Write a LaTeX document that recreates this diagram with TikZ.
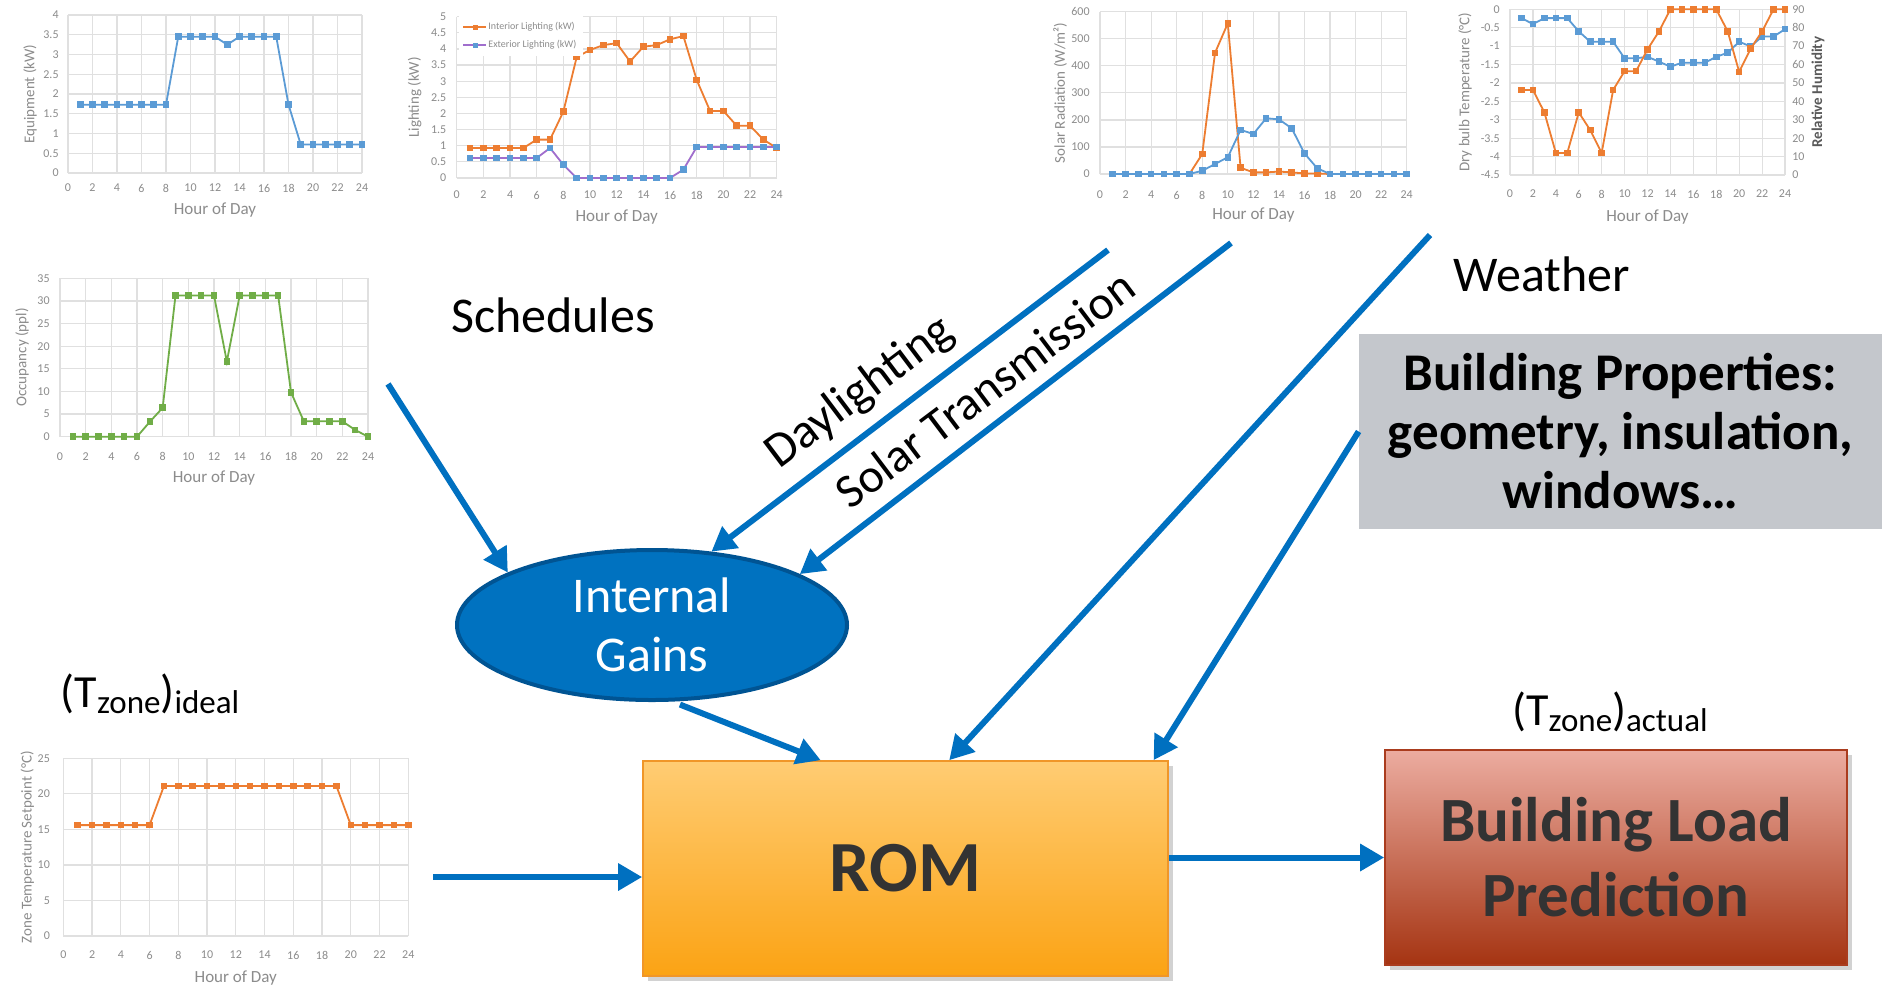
\documentclass[tikz,border=0pt]{standalone}
\usepackage{fontspec}
\setmainfont{Carlito}
\usetikzlibrary{arrows.meta,shapes.geometric,shadows,plotmarks,calc}

\definecolor{arrowblue}{RGB}{0,112,192}
\definecolor{igfill}{RGB}{0,114,192}
\definecolor{igedge}{RGB}{0,84,147}
\definecolor{gridgray}{RGB}{224,224,224}
\definecolor{tickgray}{RGB}{140,140,140}
\definecolor{serblue}{RGB}{91,155,213}
\definecolor{serorange}{RGB}{237,125,49}
\definecolor{sergreen}{RGB}{112,173,71}
\definecolor{serpurple}{RGB}{160,110,205}
\definecolor{romtop}{RGB}{255,204,115}
\definecolor{rombot}{RGB}{251,163,20}
\definecolor{romedge}{RGB}{240,150,40}
\definecolor{blptop}{RGB}{236,172,160}
\definecolor{blpbot}{RGB}{165,52,18}
\definecolor{blpedge}{RGB}{170,60,30}
\definecolor{propgray}{RGB}{196,199,204}
\definecolor{darktext}{RGB}{51,51,51}

\tikzset{
  gridline/.style={draw=gridgray, line width=0.6pt},
  ticklab/.style={font=\fontsize{6}{7}\selectfont, text=tickgray, inner sep=0pt},
  axtitle/.style={font=\fontsize{8.5}{10}\selectfont, text=tickgray, inner sep=0pt},
  ytitle/.style={font=\fontsize{7.5}{9}\selectfont, text=tickgray, inner sep=0pt, rotate=90},
  legtext/.style={font=\fontsize{5}{6}\selectfont, text=tickgray, inner sep=0pt, anchor=west},
  series/.style={line width=0.9pt, mark=square*, mark size=1.2pt, mark options={solid}},
  flow/.style={draw=arrowblue, line width=3pt, -{Triangle[length=12pt,width=13pt]}},
  flowtext/.style={font=\fontsize{25}{30}\selectfont, inner sep=0pt},
  igshape/.style={ellipse, minimum width=195pt, minimum height=75pt, inner sep=0pt,
    fill=igfill, draw=igedge, line width=2pt},
  igtext/.style={font=\fontsize{25}{29.5}\selectfont, text=white, align=center, inner sep=0pt},
  rombox/.style={rectangle, minimum width=262.5pt, minimum height=107.5pt,
    top color=romtop, bottom color=rombot, draw=romedge, line width=0.8pt,
    drop shadow={shadow xshift=2.5pt,shadow yshift=-2.5pt,opacity=0.35},
    font=\fontsize{36}{40}\selectfont\bfseries, text=darktext},
  blpbox/.style={rectangle, minimum width=231pt, minimum height=107.5pt,
    top color=blptop, bottom color=blpbot, draw=blpedge, line width=0.8pt,
    drop shadow={shadow xshift=2.5pt,shadow yshift=-2.5pt,opacity=0.35},
    font=\fontsize{31.5}{37.5}\selectfont\bfseries, text=darktext, align=center},
  propbox/.style={rectangle, minimum width=261.5pt, minimum height=97.5pt,
    fill=propgray, font=\fontsize{26.5}{29.5}\selectfont\bfseries, align=center},
}

\newcommand{\zonesub}[1]{\raisebox{-3pt}{\fontsize{16.5}{18}\selectfont #1}}

\begin{document}
\begin{tikzpicture}[x=0.5pt,y=-0.5pt]
\useasboundingbox (0,0) rectangle (1884,987);
\fill[white] (0,0) rectangle (1884,987);

% ---------- equipment schedule
\begin{scope}[shift={(68,173)},x={(6.125pt,0pt)},y={(0pt,19.75pt)}]
  \foreach \g in {0,0.5,...,4} \draw[gridline] (0,\g) -- (24,\g);
  \foreach \g in {0,2,...,24} \draw[gridline] (\g,0) -- (\g,4);
  \foreach \g [count=\i] in {0,2,...,24} \node[ticklab] (eqx\i) at ([yshift=-7.5pt]\g,0) {\g};
  \foreach \v [count=\i] in {0,0.5,1,1.5,2,2.5,3,3.5,4}
    \node[ticklab,anchor=east] (eqy\i) at ([xshift=-4.5pt]0,\v) {\v};
  \draw[series,serblue] plot coordinates {(1,1.73)(2,1.73)(3,1.73)(4,1.73)(5,1.73)(6,1.73)(7,1.73)(8,1.73)
    (9,3.45)(10,3.45)(11,3.45)(12,3.45)(13,3.25)(14,3.45)(15,3.45)(16,3.45)(17,3.45)(18,1.73)
    (19,0.72)(20,0.72)(21,0.72)(22,0.72)(23,0.72)(24,0.72)};
  \node[axtitle] (eqxt) at ([yshift=-18.5pt]12,0) {Hour of Day};
  \node[ytitle] (eqyt) at ([xshift=-19pt]0,2) {Equipment (kW)};
\end{scope}

% ---------- lighting schedule
\begin{scope}[shift={(456.7,178)},x={(6.667pt,0pt)},y={(0pt,16.13pt)}]
  \foreach \g in {0,0.5,...,5} \draw[gridline] (0,\g) -- (24,\g);
  \foreach \g in {0,2,...,24} \draw[gridline] (\g,0) -- (\g,5);
  \foreach \g [count=\i] in {0,2,...,24} \node[ticklab] (ltx\i) at ([yshift=-8.5pt]\g,0) {\g};
  \foreach \v [count=\i] in {0,0.5,1,1.5,2,2.5,3,3.5,4,4.5,5}
    \node[ticklab,anchor=east] (lty\i) at ([xshift=-5pt]0,\v) {\v};
  \draw[series,serorange] plot coordinates {(1,0.93)(2,0.93)(3,0.93)(4,0.93)(5,0.93)(6,1.19)(7,1.19)(8,2.06)
    (9,3.75)(10,3.97)(11,4.12)(12,4.18)(13,3.61)(14,4.07)(15,4.12)(16,4.3)(17,4.4)(18,3.04)
    (19,2.08)(20,2.08)(21,1.62)(22,1.62)(23,1.19)(24,0.93)};
  \draw[series,serpurple,mark options={solid,fill=serblue,draw=serblue}] plot coordinates
    {(1,0.62)(2,0.62)(3,0.62)(4,0.62)(5,0.62)(6,0.62)(7,0.93)(8,0.41)(9,0)(10,0)(11,0)(12,0)
    (13,0)(14,0)(15,0)(16,0)(17,0.26)(18,0.96)(19,0.96)(20,0.96)(21,0.96)(22,0.96)(23,0.96)(24,0.96)};
  \node[axtitle] (ltxt) at ([yshift=-19.5pt]12,0) {Hour of Day};
  \node[ytitle] (ltyt) at ([xshift=-21pt]0,2.5) {Lighting (kW)};
\end{scope}
% lighting legend
\fill[white] (459,16) rectangle (583,56);
\draw[serorange,line width=0.9pt] (463,27) -- (486,27);
\fill[serorange] (472.5,24.5) rectangle (477.5,29.5);
\node[legtext] (lgint) at (488,27) {Interior Lighting (kW)};
\draw[serpurple,line width=0.9pt] (463,45) -- (486,45);
\fill[serblue] (472.5,42.5) rectangle (477.5,47.5);
\node[legtext] (lgext) at (488,45) {Exterior Lighting (kW)};

% ---------- occupancy schedule
\begin{scope}[shift={(60,436.7)},x={(6.417pt,0pt)},y={(0pt,2.263pt)}]
  \foreach \g in {0,5,...,35} \draw[gridline] (0,\g) -- (24,\g);
  \foreach \g in {0,2,...,24} \draw[gridline] (\g,0) -- (\g,35);
  \foreach \g [count=\i] in {0,2,...,24} \node[ticklab] (ocx\i) at ([yshift=-10pt]\g,0) {\g};
  \foreach \v [count=\i] in {0,5,...,35}
    \node[ticklab,anchor=east] (ocy\i) at ([xshift=-5pt]0,\v) {\v};
  \draw[series,sergreen] plot coordinates {(1,0)(2,0)(3,0)(4,0)(5,0)(6,0)(7,3.3)(8,6.4)
    (9,31.2)(10,31.2)(11,31.2)(12,31.2)(13,16.6)(14,31.2)(15,31.2)(16,31.2)(17,31.2)(18,9.8)
    (19,3.4)(20,3.4)(21,3.4)(22,3.4)(23,1.5)(24,0)};
  \node[axtitle] (ocxt) at ([yshift=-20.7pt]12,0) {Hour of Day};
  \node[ytitle] (ocyt) at ([xshift=-19pt]0,17.5) {Occupancy (ppl)};
\end{scope}

% ---------- solar radiation
\begin{scope}[shift={(1100,174)},x={(6.39pt,0pt)},y={(0pt,0.13525pt)}]
  \foreach \g in {0,100,...,600} \draw[gridline] (0,\g) -- (24,\g);
  \foreach \g in {0,2,...,24} \draw[gridline] (\g,0) -- (\g,600);
  \foreach \g [count=\i] in {0,2,...,24} \node[ticklab] (srx\i) at ([yshift=-10.5pt]\g,0) {\g};
  \foreach \v [count=\i] in {0,100,...,600}
    \node[ticklab,anchor=east] (sry\i) at ([xshift=-5pt]0,\v) {\v};
  \draw[series,serorange] plot coordinates {(1,0)(2,0)(3,0)(4,0)(5,0)(6,0)(7,0)(8,74)(9,448)(10,557)
    (11,23)(12,6)(13,6)(14,9)(15,6)(16,2)(17,2)(18,0)(19,0)(20,0)(21,0)(22,0)(23,0)(24,0)};
  \draw[series,serblue] plot coordinates {(1,0)(2,0)(3,0)(4,0)(5,0)(6,0)(7,0)(8,12)(9,37)(10,62)
    (11,163)(12,148)(13,206)(14,202)(15,169)(16,76)(17,21)(18,0)(19,0)(20,0)(21,0)(22,0)(23,0)(24,0)};
  \node[axtitle] (srxt) at ([yshift=-20.5pt]12,0) {Hour of Day};
  \node[ytitle] (sryt) at ([xshift=-20pt]0,300) {Solar Radiation (W/m²)};
\end{scope}

% ---------- dry bulb temperature and humidity
\begin{scope}[shift={(1510,9.3)},x={(5.729pt,0pt)},y={(0pt,18.41pt)}]
  \foreach \g in {0,-0.5,...,-4.5} \draw[gridline] (0,\g) -- (24,\g);
  \foreach \g in {0,2,...,24} \draw[gridline] (\g,0) -- (\g,-4.5);
  \foreach \g [count=\i] in {0,2,...,24} \node[ticklab] (dbx\i) at ([yshift=-9.5pt]\g,-4.5) {\g};
  \foreach \v [count=\i] in {0,-0.5,-1,-1.5,-2,-2.5,-3,-3.5,-4,-4.5}
    \node[ticklab,anchor=east] (dby\i) at ([xshift=-5pt]0,\v) {\v};
  \foreach \t [count=\i] in {0,10,...,90}
    \node[ticklab,anchor=west] (dbr\i) at ([xshift=3.5pt]24,{-4.5+0.05*\t}) {\t};
  \draw[series,serblue] plot coordinates {(1,-0.24)(2,-0.4)(3,-0.24)(4,-0.24)(5,-0.24)(6,-0.6)
    (7,-0.88)(8,-0.88)(9,-0.88)(10,-1.33)(11,-1.33)(12,-1.29)(13,-1.42)(14,-1.56)(15,-1.45)
    (16,-1.45)(17,-1.45)(18,-1.29)(19,-1.18)(20,-0.88)(21,-1.01)(22,-0.74)(23,-0.74)(24,-0.54)};
  \draw[series,serorange] plot coordinates {(1,-2.19)(2,-2.19)(3,-2.8)(4,-3.9)(5,-3.9)(6,-2.8)
    (7,-3.28)(8,-3.9)(9,-2.19)(10,-1.68)(11,-1.68)(12,-1.09)(13,-0.6)(14,0)(15,0)(16,0)(17,0)
    (18,0)(19,-0.6)(20,-1.7)(21,-1.07)(22,-0.6)(23,0)(24,0)};
  \node[axtitle] (dbxt) at ([yshift=-21pt]12,-4.5) {Hour of Day};
  \node[ytitle] (dbyt) at ([xshift=-22.5pt]0,-2.25) {Dry bulb Temperature (°C)};
  \node[ytitle,text=black!65,font=\fontsize{7.5}{9}\selectfont\bfseries] (dbrt)
    at ([xshift=16.5pt]24,-2.25) {Relative Humidity};
\end{scope}

% ---------- zone temperature setpoint
\begin{scope}[shift={(63.3,936)},x={(7.1875pt,0pt)},y={(0pt,3.554pt)}]
  \foreach \g in {0,5,...,25} \draw[gridline] (0,\g) -- (24,\g);
  \foreach \g in {0,2,...,24} \draw[gridline] (\g,0) -- (\g,25);
  \foreach \g [count=\i] in {0,2,...,24} \node[ticklab] (ztx\i) at ([yshift=-9.5pt]\g,0) {\g};
  \foreach \v [count=\i] in {0,5,...,25}
    \node[ticklab,anchor=east] (zty\i) at ([xshift=-6.5pt]0,\v) {\v};
  \draw[series,serorange] plot coordinates {(1,15.6)(2,15.6)(3,15.6)(4,15.6)(5,15.6)(6,15.6)
    (7,21.1)(8,21.1)(9,21.1)(10,21.1)(11,21.1)(12,21.1)(13,21.1)(14,21.1)(15,21.1)(16,21.1)
    (17,21.1)(18,21.1)(19,21.1)(20,15.6)(21,15.6)(22,15.6)(23,15.6)(24,15.6)};
  \node[axtitle] (ztxt) at ([yshift=-21pt]12,0) {Hour of Day};
  \node[ytitle] (ztyt) at ([xshift=-18pt]0,12.5) {Zone Temperature Setpoint (°C)};
\end{scope}

% ---------- flow labels
\node[flowtext] (sched) at (553,315) {Schedules};
\node[flowtext] (wx) at (1542,274) {Weather};
\node[flowtext,rotate=37,font=\fontsize{24.5}{30}\selectfont] (dayl) at (860,393) {Daylighting};
\node[flowtext,rotate=37,font=\fontsize{24}{30}\selectfont] (soltr) at (985,389) {Solar Transmission};
\node[inner sep=0pt,font=\fontsize{23}{26}\selectfont] (tideal) at (150,694)
  {(T\zonesub{zone})\zonesub{ideal}};
\node[inner sep=0pt,font=\fontsize{23}{26}\selectfont] (tactual) at (1610,712)
  {(T\zonesub{zone})\zonesub{actual}};

% ---------- blocks
\node[igshape] (ig) at (652,625) {};
\node[igtext] (igt) at (ig.center) {Internal\\Gains};
\node[rombox] (rom) at (905.5,868.5) {ROM};
\node[blpbox] (blp) at (1616,857.5) {Building Load\\Prediction};
\node[propbox] (bp) at (1620.5,431.5) {Building Properties:\\geometry, insulation,\\windows…};

% ---------- connectors
\coordinate (schedTail) at (388,384);
\coordinate (dayTail) at (1108,250);
\coordinate (solTail) at (1231,243);
\coordinate (wxTail) at (1430,235);
\coordinate (idealTail) at (433,877);

\draw[flow] (schedTail) -- (ig.160);
\draw[flow] (dayTail) -- (ig.51);
\draw[flow] (solTail) -- (ig.19);
\draw[flow] (wxTail) -- ($(rom.north west)!0.583!(rom.north east)$);
\draw[flow] (bp.west) -- ($(rom.north west)!0.971!(rom.north east)$);
\draw[flow,shorten <=4pt] (ig.-75) -- ($(rom.north west)!0.339!(rom.north east)$);
\draw[flow] (idealTail) -- (idealTail -| rom.west);
\draw[flow] (blp.west -| rom.east) -- (blp.west);
\end{tikzpicture}
\end{document}
